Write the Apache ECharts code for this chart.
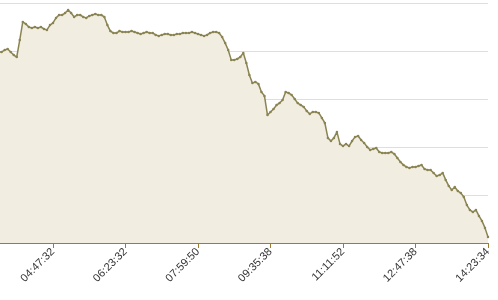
<!DOCTYPE html>
<html>
<head>
<meta charset="utf-8">
<script src="https://cdn.jsdelivr.net/npm/echarts@6/dist/echarts.min.js"></script>
<style>html,body{margin:0;padding:0;background:#fff}#c{width:498px;height:300px}</style>
</head>
<body>
<div id="c"></div>
<script>
// Tick labels every 24 samples
var tickLabels = ["03:11:40", "04:47:32", "06:23:32", "07:59:50", "09:35:38", "11:11:52", "12:47:38", "14:23:34"];
var pointsPerTick = 24;
// Series values (arbitrary units, axis 0-100)
var values = [
  81.3, 80.4, 81.7, 80.8, 82.1, 81.3, 79.6, 79.6, 80.4, 80.8,
  79.6, 78.3, 77.5, 84.6, 92.1, 91.3, 90.0, 89.6, 90.0, 89.6,
  90.0, 89.2, 88.8, 90.8, 91.7, 93.8, 95.0, 95.0, 95.8, 97.1,
  95.8, 94.2, 95.0, 95.0, 94.2, 93.8, 94.6, 95.0, 95.4, 95.0,
  95.0, 94.2, 90.8, 88.3, 87.5, 87.5, 88.3, 87.9, 87.9, 87.9,
  88.3, 87.9, 87.5, 87.1, 87.5, 87.9, 87.5, 87.5, 86.7, 86.3,
  86.7, 87.1, 87.1, 86.7, 86.7, 87.1, 87.1, 87.5, 87.5, 87.5,
  87.9, 87.5, 87.1, 86.7, 86.3, 86.7, 87.5, 87.9, 87.9, 87.5,
  85.8, 83.3, 80.4, 76.3, 76.3, 76.7, 77.5, 79.2, 75.0, 70.0,
  66.7, 67.1, 66.3, 62.9, 61.3, 53.3, 54.6, 55.8, 57.5, 58.3,
  59.6, 62.9, 62.5, 61.7, 60.0, 58.3, 57.5, 56.7, 55.0, 53.8,
  54.6, 54.6, 54.2, 52.1, 50.0, 43.8, 42.5, 43.8, 46.3, 41.3,
  40.4, 41.3, 40.4, 42.5, 44.2, 44.6, 42.9, 41.7, 40.0, 38.8,
  39.2, 39.6, 37.9, 37.5, 37.5, 37.5, 37.9, 37.1, 35.4, 33.8,
  32.5, 31.7, 31.3, 31.7, 31.7, 32.1, 32.5, 30.8, 30.4, 30.4,
  29.2, 27.9, 28.3, 29.2, 26.3, 23.8, 22.1, 23.3, 21.7, 20.8,
  19.2, 15.8, 13.8, 12.9, 13.8, 11.3, 9.2, 6.3, 2.5
];
var yMin = 0, yMax = 100, yStep = 20;

var chart = echarts.init(document.getElementById('c'), null, {renderer: 'canvas'});
var lastIndex = pointsPerTick * (tickLabels.length - 1);
chart.setOption({
  animation: false,
  grid: {left: -19.5, right: 10, top: 3, bottom: 57, containLabel: false, outerBoundsMode: 'none'},
  xAxis: {
    type: 'value', min: 0, max: lastIndex, interval: pointsPerTick,
    axisLine: {show: true, onZero: false, lineStyle: {color: '#9a7d2e', width: 1}},
    axisTick: {show: true, length: 5, lineStyle: {color: '#9a7d2e'}},
    splitLine: {show: false},
    axisLabel: {
      rotate: 45, fontSize: 11, color: '#333', margin: 7,
      fontFamily: 'Liberation Sans, Arial, sans-serif',
      formatter: function (v) { var k = Math.round(v / pointsPerTick); return tickLabels[k] || ''; }
    }
  },
  yAxis: {
    type: 'value', min: yMin, max: yMax, interval: yStep,
    axisLine: {show: false}, axisTick: {show: false}, axisLabel: {show: false},
    splitLine: {show: true, lineStyle: {color: '#dedede', width: 1}}
  },
  series: [{
    type: 'line',
    data: values.map(function (v, i) { return [i, v]; }),
    showSymbol: true,
    symbol: 'circle',
    symbolSize: 2.5,
    lineStyle: {color: '#8a8452', width: 1.5},
    itemStyle: {color: '#8a8452'},
    areaStyle: {color: '#f1ede1', opacity: 1},
    z: 2
  }]
});
</script>
</body>
</html>
